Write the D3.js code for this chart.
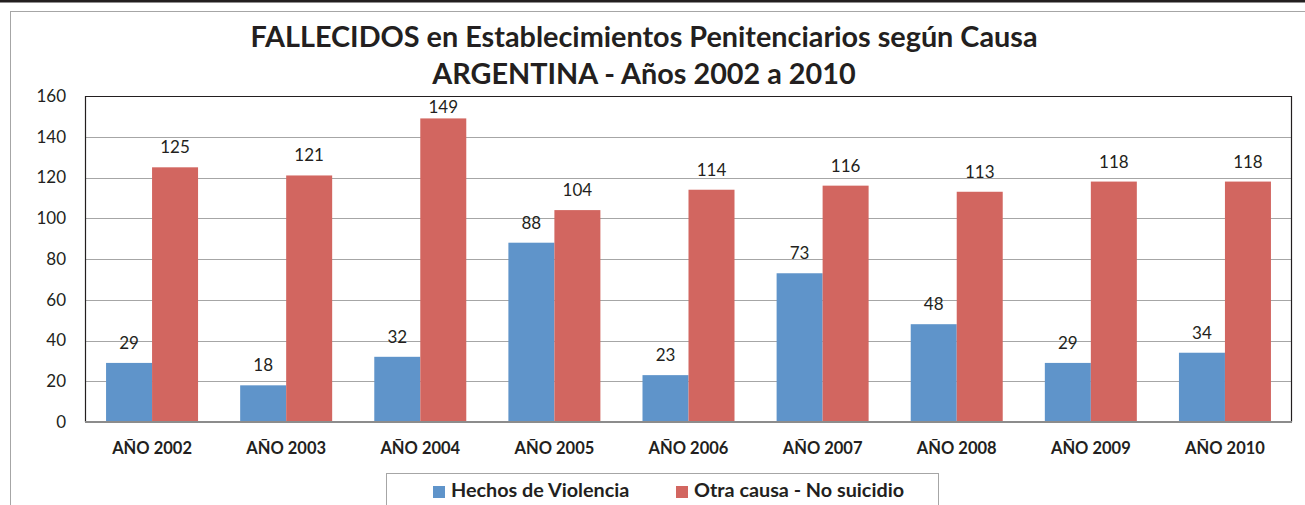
<!DOCTYPE html>
<html>
<head>
<meta charset="utf-8">
<script src="https://cdn.jsdelivr.net/npm/d3@7"></script>
<style>
  body { margin: 0; background: #fff; }
  svg { display: block; font-family: Lato, "Open Sans", sans-serif; }
</style>
</head>
<body>
<svg id="chart" width="1305" height="505"></svg>
<script>
"use strict";

// data
const years = ["AÑO 2002", "AÑO 2003", "AÑO 2004", "AÑO 2005", "AÑO 2006", "AÑO 2007", "AÑO 2008", "AÑO 2009", "AÑO 2010"];
const seriesNames = ["Hechos de Violencia", "Otra causa - No suicidio"];
const violencia = [29, 18, 32, 88, 23, 73, 48, 29, 34];
const otraCausa = [125, 121, 149, 104, 114, 116, 113, 118, 118];
const yTicks = [0, 20, 40, 60, 80, 100, 120, 140, 160];
const seriesColors = ["#5f94ca", "#d26660"];

const titleLines = ["FALLECIDOS en Establecimientos Penitenciarios según Causa", "ARGENTINA - Años 2002 a 2010"];

// layout
const W = 1305, H = 505;
const plot = { left: 85, top: 96, right: 1292, bottom: 422 };

const svg = d3.select("#chart");

// top dark band + outer frame
svg.append("rect").attr("x", 0).attr("y", 0).attr("width", W).attr("height", 2.5).attr("fill", "#231f20");
svg.append("rect")
  .attr("x", 10.5).attr("y", 11.5).attr("width", W + 10).attr("height", H + 10)
  .attr("fill", "none").attr("stroke", "#a6a6a6").attr("stroke-width", 1);

// title
svg.append("g").attr("class", "title")
  .selectAll("text")
  .data(titleLines)
  .join("text")
  .attr("x", 644)
  .attr("y", (d, i) => 47 + i * 37)
  .attr("text-anchor", "middle")
  .attr("font-size", 28.8)
  .attr("font-weight", "bold")
  .attr("fill", "#231f20")
  .text(d => d);

// scales
const x0 = d3.scaleBand().domain(years).range([plot.left, plot.right]).paddingInner(0).paddingOuter(0);
const groupW = 92;
const x1 = d3.scaleBand().domain([0, 1]).range([0, groupW]);
const y = d3.scaleLinear().domain([0, 160]).range([plot.bottom, plot.top]);

// grid
svg.append("g").attr("class", "grid")
  .selectAll("line")
  .data(yTicks.filter(t => t > 0 && t < 160))
  .join("line")
  .attr("x1", plot.left).attr("x2", plot.right)
  .attr("y1", d => Math.round(y(d)) + 0.5).attr("y2", d => Math.round(y(d)) + 0.5)
  .attr("stroke", "#a6a6a6").attr("stroke-width", 1);

// y axis labels
const yAxis = svg.append("g")
  .attr("class", "y_axis")
  .attr("transform", `translate(${plot.left}, 0)`)
  .call(d3.axisLeft(y).tickValues(yTicks).tickSize(0).tickPadding(19));
yAxis.select(".domain").remove();
yAxis.selectAll("text").attr("font-size", 17).attr("fill", "#231f20").attr("font-family", "Lato, sans-serif");

// bars
const rows = years.map((yr, i) => ({ year: yr, values: [violencia[i], otraCausa[i]] }));
const groups = svg.append("g").attr("class", "bars")
  .selectAll("g")
  .data(rows)
  .join("g")
  .attr("transform", d => `translate(${x0(d.year) + (x0.bandwidth() - groupW) / 2}, 0)`);

groups.selectAll("rect")
  .data(d => d.values)
  .join("rect")
  .attr("x", (d, i) => x1(i))
  .attr("width", x1.bandwidth())
  .attr("y", d => y(d))
  .attr("height", d => y(0) - y(d))
  .attr("fill", (d, i) => seriesColors[i]);

// value labels, kept inside the plot area like the original
groups.selectAll("text")
  .data(d => d.values)
  .join("text")
  .attr("x", (d, i) => x1(i) + x1.bandwidth() / 2)
  .attr("y", d => Math.max(y(d) - 14, plot.top + 17))
  .attr("text-anchor", "middle")
  .attr("font-size", 17)
  .attr("fill", "#231f20")
  .text(d => d);

// plot frame (dark) and bottom axis (gray)
svg.append("path")
  .attr("d", `M${plot.left + 0.5},${plot.bottom}V${plot.top + 0.5}H${plot.right - 0.5}V${plot.bottom}`)
  .attr("fill", "none").attr("stroke", "#231f20").attr("stroke-width", 1.2);
svg.append("line")
  .attr("x1", plot.left).attr("x2", plot.right)
  .attr("y1", plot.bottom).attr("y2", plot.bottom)
  .attr("stroke", "#8c8c8c").attr("stroke-width", 2);

// x axis labels
const xAxis = svg.append("g")
  .attr("class", "x_axis")
  .attr("transform", `translate(0, ${plot.bottom})`)
  .call(d3.axisBottom(x0).tickSize(0));
xAxis.select(".domain").remove();
xAxis.selectAll("text")
  .attr("y", 32).attr("dy", null)
  .attr("font-size", 16.5).attr("font-weight", "bold")
  .attr("fill", "#231f20").attr("font-family", "Lato, sans-serif");

// legend
const legend = svg.append("g").attr("class", "legend");
legend.append("rect")
  .attr("x", 386.5).attr("y", 473.5).attr("width", 552).attr("height", 50)
  .attr("fill", "#fff").attr("stroke", "#a6a6a6");
const legendX = [433, 676];
const items = legend.selectAll("g.item")
  .data(seriesNames)
  .join("g")
  .attr("class", "item")
  .attr("transform", (d, i) => `translate(${legendX[i]}, 497)`);
items.append("rect")
  .attr("x", 0).attr("y", -11).attr("width", 12).attr("height", 12)
  .attr("fill", (d, i) => seriesColors[i]);
items.append("text")
  .attr("x", 18).attr("y", 0)
  .attr("font-size", 19.8).attr("font-weight", "bold")
  .attr("fill", "#231f20")
  .text(d => d);
</script>
</body>
</html>
